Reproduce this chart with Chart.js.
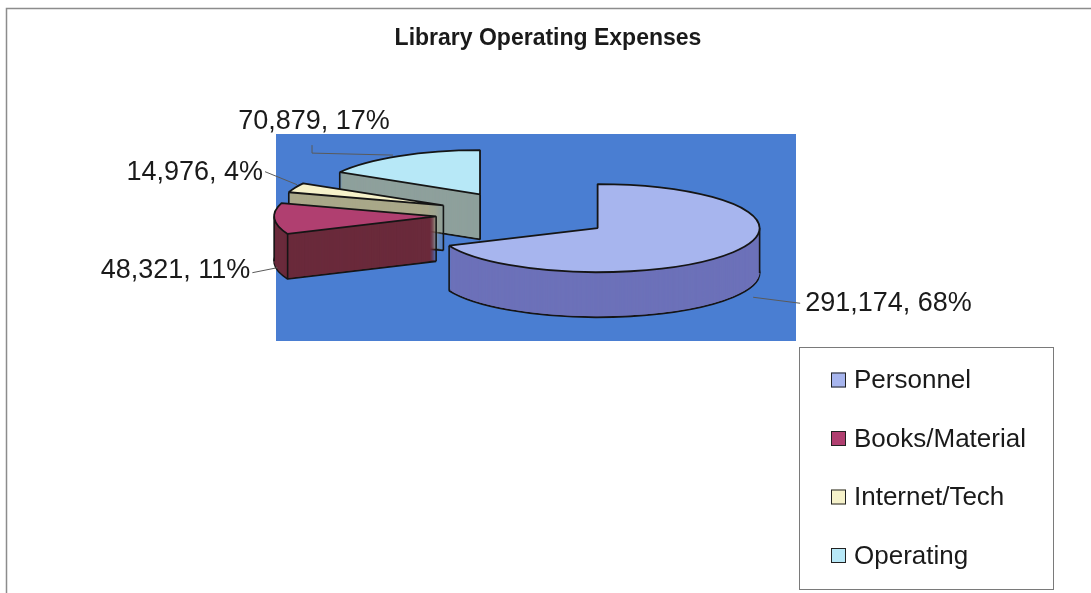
<!DOCTYPE html>
<html>
<head>
<meta charset="utf-8">
<script src="https://cdn.jsdelivr.net/npm/chart.js@4.4.0/dist/chart.umd.min.js"></script>
<style>
  html, body { margin: 0; padding: 0; background: #fff; }
  #wrap { position: relative; width: 1091px; height: 593px; }
</style>
</head>
<body>
<div id="wrap"><canvas id="c" width="1091" height="593"></canvas></div>
<script>
// ---- data ----
const categories = ['Personnel', 'Books/Material', 'Internet/Tech', 'Operating'];
const expenses = [291174, 48321, 14976, 70879];
const chartTitle = 'Library Operating Expenses';

// ---- styles ----
const topColors  = ['#a7b5ee', '#b03f70', '#f6f2ca', '#b7e8f7'];
const sideColors = ['#6c71b9', '#6a2a3b', '#a9a889', '#8ea09c'];
const plotColor = '#4a7ed2';
const FONT = '"Liberation Sans", Arial, Helvetica, sans-serif';
const view3d = { depth: 45, squash: 0.272, explode: 88, shiftX: -24, plotInsetRight: 24 };

// label placement relative to each slice's rim anchor (layout only)
const labelLayout = [
  { leader: [[20, 45], [67, 51]], text: [72, 51.5], align: 'left' },
  { leader: [[3, 49], [-22, 54]], text: [-24, 51.5], align: 'right' },
  { leader: [[2, -3], [-30, -16]], text: [-32, -15.5], align: 'right' },
  { leader: [[-6, -1], [-87, -3], [-87, -11]], text: [-85, -34.5], align: 'center' }
];
const legendLayout = { x: 799.5, y: 347.5, w: 254, h: 242, swatchX: 831, swatch: 15, textX: 854, firstY: 380, step: 58.5, size: 26 };

// ---- 3D helpers (geometry comes from the library's arc elements) ----
const midAngle = a => (a.startAngle + a.endAngle) / 2;
const topY = a => a.y - view3d.depth / 2;
function rimPoint(a, ang, r) {
  const m = midAngle(a);
  return [a.x + Math.cos(m) * view3d.explode + Math.cos(ang) * r,
          a.y + Math.sin(m) * view3d.explode + Math.sin(ang) * r];
}
function toScreen(a, p, dy) {
  return [p[0] + view3d.shiftX, topY(a) + dy + (p[1] - a.y) * view3d.squash];
}
function inSlice(a, ang) {
  const T = Math.PI * 2;
  let s = a.startAngle, e = a.endAngle;
  let x = ang;
  while (x < s) x += T;
  return x <= e;
}

const pie3dPlugin = {
  id: 'pie3d',
  beforeDraw(chart) {
    const ctx = chart.ctx;
    ctx.save();
    ctx.fillStyle = '#fff';
    ctx.fillRect(0, 0, chart.width, chart.height);
    ctx.strokeStyle = '#8c8c8c';
    ctx.lineWidth = 1.5;
    ctx.strokeRect(6.5, 8.5, chart.width + 50, chart.height + 50);
    ctx.restore();
  },
  beforeDatasetsDraw(chart) {
    const ctx = chart.ctx;
    const area = chart.chartArea;
    const { depth, squash, explode, shiftX } = view3d;
    ctx.save();
    ctx.fillStyle = plotColor;
    ctx.fillRect(area.left, area.top, area.right - area.left - view3d.plotInsetRight, area.bottom - area.top);
    ctx.restore();

    const arcs = chart.getDatasetMeta(0).data;
    const ds = chart.data.datasets[0];
    const dpr = chart.currentDevicePixelRatio || 1;
    const nativeStroke = ctx.stroke;
    ctx.stroke = function () {
      this.save();
      this.setTransform(dpr, 0, 0, dpr, 0, 0);
      nativeStroke.apply(this, arguments);
      this.restore();
    };

    const drawLayer = (a, dy, fill, stroke, width) => {
      const saved = a.options;
      a.options = Object.assign({}, saved, { backgroundColor: fill, borderColor: stroke, borderWidth: width, offset: 0, spacing: 0 });
      const m = midAngle(a);
      ctx.save();
      ctx.translate(shiftX, topY(a) + dy);
      ctx.scale(1, squash);
      ctx.translate(Math.cos(m) * explode, -a.y + Math.sin(m) * explode);
      a.draw(ctx);
      ctx.restore();
      a.options = saved;
    };

    const order = arcs.map((a, i) => i)
      .sort((i, j) => Math.sin(midAngle(arcs[i])) - Math.sin(midAngle(arcs[j])));

    order.forEach(i => {
      const a = arcs[i];
      const side = ds.sideColor[i];
      const top = ds.backgroundColor[i];
      drawLayer(a, depth, side, '#151515', 1.8);
      for (let d = depth - 1; d >= 1; d -= 1) drawLayer(a, d, side, side, 0);
      const a1 = a.startAngle, a2 = a.endAngle, R = a.outerRadius;
      const edges = [];
      if (Math.cos(a1) < -1e-6 || Math.sin(a1) > 1e-6) edges.push(rimPoint(a, a1, R));
      if (Math.cos(a2) > 1e-6 || Math.sin(a2) > 1e-6) edges.push(rimPoint(a, a2, R));
      if (Math.cos(a1) < -1e-6 || Math.cos(a2) > 1e-6) edges.push(rimPoint(a, a1, 0));
      if (inSlice(a, 0)) edges.push(rimPoint(a, 0, R));
      if (inSlice(a, Math.PI)) edges.push(rimPoint(a, Math.PI, R));
      ctx.save();
      ctx.strokeStyle = '#151515';
      ctx.lineWidth = 1.6;
      edges.forEach(p => {
        const t = toScreen(a, p, 0), b = toScreen(a, p, depth);
        ctx.beginPath(); ctx.moveTo(t[0], t[1]); ctx.lineTo(b[0], b[1]); ctx.stroke();
      });
      ctx.restore();
      drawLayer(a, 0, top, '#151515', 1.8);
    });

    ctx.stroke = nativeStroke;
    return false;
  },
  afterDraw(chart) {
    const ctx = chart.ctx;
    const arcs = chart.getDatasetMeta(0).data;
    const values = chart.data.datasets[0].data;
    const total = values.reduce((s, v) => s + v, 0);
    ctx.save();
    // data labels with leader lines
    ctx.font = '27px ' + FONT;
    ctx.fillStyle = '#1a1a1a';
    ctx.textBaseline = 'middle';
    arcs.forEach((a, i) => {
      const L = labelLayout[i];
      const anchor = toScreen(a, rimPoint(a, midAngle(a), a.outerRadius), 0);
      ctx.strokeStyle = '#5a5a5a';
      ctx.lineWidth = 1;
      ctx.beginPath();
      L.leader.forEach((q, k) => {
        const x = anchor[0] + q[0], y = anchor[1] + q[1];
        if (k === 0) ctx.moveTo(x, y); else ctx.lineTo(x, y);
      });
      ctx.stroke();
      const txt = values[i].toLocaleString('en-US') + ', ' + Math.round(values[i] / total * 100) + '%';
      ctx.textAlign = L.align;
      ctx.fillText(txt, anchor[0] + L.text[0], anchor[1] + L.text[1]);
    });
    // legend
    const G = legendLayout;
    ctx.strokeStyle = '#7a7a7a';
    ctx.lineWidth = 1;
    ctx.strokeRect(G.x, G.y, G.w, G.h);
    ctx.font = G.size + 'px ' + FONT;
    ctx.textAlign = 'left';
    chart.data.labels.forEach((lab, i) => {
      const cy = G.firstY + i * G.step;
      ctx.fillStyle = chart.data.datasets[0].backgroundColor[i];
      ctx.fillRect(G.swatchX, cy - G.swatch / 2, G.swatch, G.swatch);
      ctx.strokeStyle = '#222';
      ctx.strokeRect(G.swatchX + 0.5, cy - G.swatch / 2 + 0.5, G.swatch - 1, G.swatch - 1);
      ctx.fillStyle = '#1a1a1a';
      ctx.fillText(lab, G.textX, cy + 1);
    });
    ctx.restore();
  }
};

new Chart(document.getElementById('c'), {
  type: 'pie',
  data: {
    labels: categories,
    datasets: [{
      data: expenses,
      backgroundColor: topColors,
      sideColor: sideColors,
      borderColor: '#151515',
      borderWidth: 1.8,
      radius: 162
    }]
  },
  options: {
    responsive: false,
    animation: false,
    events: [],
    layout: { padding: { left: 276, right: 271, top: 0, bottom: 252 } },
    plugins: {
      legend: { display: false },
      tooltip: { enabled: false },
      title: {
        display: true,
        text: chartTitle,
        color: '#1a1a1a',
        font: { family: FONT, size: 23, weight: 'bold' },
        padding: { top: 25, bottom: 81.4 }
      }
    }
  },
  plugins: [pie3dPlugin]
});
</script>
</body>
</html>
